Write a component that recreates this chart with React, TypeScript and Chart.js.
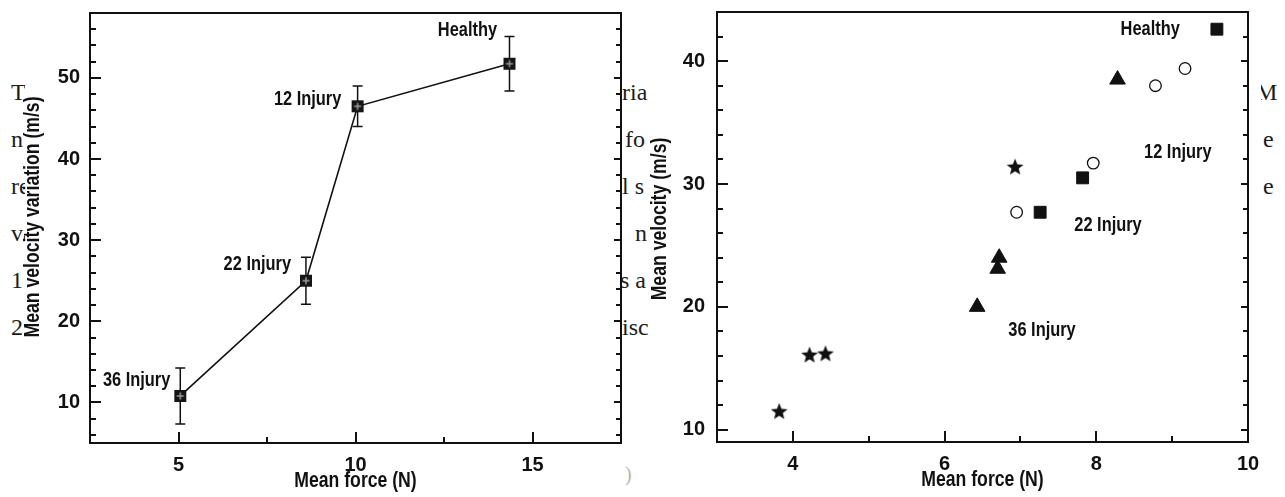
import React, { useEffect, useRef } from 'react';
import { Chart, registerables } from 'chart.js';

Chart.register(...registerables);

const SANS = '"Liberation Sans", Arial, Helvetica, sans-serif';
const SERIF = '"Liberation Serif", "Times New Roman", serif';
const NARROW_SCALE = 0.82;

// ---------- Left panel: mean velocity variation vs mean force ----------
const leftGroups = ['36 Injury', '22 Injury', '12 Injury', 'Healthy'];
const leftForce = [5.05, 8.6, 10.06, 14.35];
const leftVelocityVariation = [10.8, 25.0, 46.5, 51.75];
const leftError = [3.45, 2.9, 2.5, 3.35];
const leftLabelX = [4.77, 8.18, 9.6, 14.0];
const leftLabelY = [12.7, 27.0, 47.3, 55.8];
const leftXTicks = [5, 7.5, 10, 12.5, 15];
const leftXMajor = [5, 10, 15];
const leftYTicks = [6, 8, 10, 12, 14, 16, 18, 20, 22, 24, 26, 28, 30, 32, 34, 36, 38, 40, 42, 44, 46, 48, 50, 52, 54, 56];
const leftYMajor = [10, 20, 30, 40, 50];

// ---------- Right panel: mean velocity vs mean force ----------
const starForce = [3.82, 4.22, 4.43, 6.93];
const starVelocity = [11.5, 16.1, 16.2, 31.4];
const triangleForce = [6.43, 6.7, 6.72, 8.28];
const triangleVelocity = [20.0, 23.1, 24.0, 38.5];
const circleForce = [6.95, 7.96, 8.78, 9.17];
const circleVelocity = [27.7, 31.7, 38.0, 39.4];
const squareForce = [7.26, 7.82, 9.59];
const squareVelocity = [27.7, 30.5, 42.6];
const rightGroups = ['Healthy', '12 Injury', '22 Injury', '36 Injury'];
const rightLabelX = [8.32, 8.63, 7.71, 6.84];
const rightLabelY = [42.55, 32.6, 26.6, 18.1];
const rightXTicks = [4, 5, 6, 7, 8, 9, 10];
const rightXMajor = [4, 6, 8, 10];
const rightYTicks = [10, 12, 14, 16, 18, 20, 22, 24, 26, 28, 30, 32, 34, 36, 38, 40, 42];
const rightYMajor = [10, 20, 30, 40];

// scanned-page text fragments visible around the panels
const leftFragments = ['T', 'n', 're', 'va', '1', '2'];
const middleFragments = ['ria', 'fo', 'l s', 'n', 's a', 'isc'];
const rightFragments = ['M', 'e', 'e'];

type LabelSpec = { text: string; x: number; y: number; align: CanvasTextAlign };
type PanelCfg = {
  xTicks: number[]; xMajor: number[]; yTicks: number[]; yMajor: number[];
  xTitle: string; yTitle: string; yTitleDy: number;
  labels: LabelSpec[];
  errors?: { x: number; y: number; e: number }[];
};

function narrowText(ctx: CanvasRenderingContext2D, text: string, x: number, y: number, size: number, align: CanvasTextAlign, rotate = 0) {
  ctx.save();
  ctx.font = `bold ${size}px ${SANS}`;
  ctx.fillStyle = '#111';
  ctx.textAlign = align;
  ctx.textBaseline = 'middle';
  ctx.translate(x, y);
  if (rotate) ctx.rotate(rotate);
  ctx.scale(NARROW_SCALE, 1);
  ctx.fillText(text, 0, 0);
  ctx.restore();
}

function makePanelPlugin(cfg: PanelCfg) {
  return {
    id: 'panelDecor',
    beforeDatasetsDraw(chart: any) {
      if (!cfg.errors) return;
      const { ctx, scales: { x, y } } = chart;
      ctx.save();
      ctx.strokeStyle = '#111';
      ctx.lineWidth = 1.5;
      ctx.beginPath();
      for (const e of cfg.errors) {
        const px = x.getPixelForValue(e.x);
        const t = y.getPixelForValue(e.y + e.e);
        const b = y.getPixelForValue(e.y - e.e);
        ctx.moveTo(px, t); ctx.lineTo(px, b);
        ctx.moveTo(px - 5, t); ctx.lineTo(px + 5, t);
        ctx.moveTo(px - 5, b); ctx.lineTo(px + 5, b);
      }
      ctx.stroke();
      ctx.restore();
    },
    afterDraw(chart: any) {
      const { ctx, chartArea: { left, right, top, bottom }, scales: { x, y } } = chart;
      ctx.save();
      ctx.strokeStyle = '#111';
      ctx.lineWidth = 2;
      ctx.strokeRect(left, top, right - left, bottom - top);
      ctx.beginPath();
      for (const v of cfg.xTicks) {
        const px = Math.round(x.getPixelForValue(v));
        if (px <= left + 2 || px >= right - 2) continue;
        const len = cfg.xMajor.includes(v) ? 11 : 6;
        ctx.moveTo(px, bottom); ctx.lineTo(px, bottom - len);
      }
      for (const v of cfg.yTicks) {
        const py = Math.round(y.getPixelForValue(v));
        const major = cfg.yMajor.includes(v);
        ctx.moveTo(left, py); ctx.lineTo(left + (major ? 11 : 6), py);
        ctx.moveTo(right, py); ctx.lineTo(right - (major ? 7 : 5), py);
      }
      ctx.stroke();
      ctx.restore();

      for (const l of cfg.labels) {
        narrowText(ctx, l.text, x.getPixelForValue(l.x), y.getPixelForValue(l.y), 20, l.align);
      }
      narrowText(ctx, cfg.xTitle, (left + right) / 2, bottom + 38, 21.5, 'center');
      narrowText(ctx, cfg.yTitle, left - 57, (top + bottom) / 2 + cfg.yTitleDy, 21.5, 'center', -Math.PI / 2);
    },
  };
}

function makeCrossSquare() {
  const c = document.createElement('canvas');
  c.width = 14; c.height = 14;
  const g = c.getContext('2d')!;
  g.fillStyle = '#151515';
  g.fillRect(1, 1, 12, 12);
  g.strokeStyle = '#9a9a9a';
  g.lineWidth = 1.5;
  g.beginPath();
  g.moveTo(3.5, 7); g.lineTo(10.5, 7);
  g.moveTo(7, 3.5); g.lineTo(7, 10.5);
  g.stroke();
  return c;
}

function makeStar() {
  const c = document.createElement('canvas');
  c.width = 18; c.height = 18;
  const g = c.getContext('2d')!;
  g.fillStyle = '#111';
  g.beginPath();
  const cx = 9, cy = 9.6, ro = 8.8, ri = 3.8;
  for (let i = 0; i < 10; i++) {
    const r = i % 2 === 0 ? ro : ri;
    const a = -Math.PI / 2 + (i * Math.PI) / 5;
    const px = cx + r * Math.cos(a), py = cy + r * Math.sin(a);
    if (i === 0) g.moveTo(px, py); else g.lineTo(px, py);
  }
  g.closePath();
  g.fill();
  return c;
}

function tickFont() {
  return { family: SANS, size: 20, weight: 'bold' as const };
}

function fixX(height: number) {
  return (s: any) => { s.height = height; s.paddingLeft = 0; s.paddingRight = 0; s.paddingTop = 0; s.paddingBottom = 0; };
}
function fixY(width: number) {
  return (s: any) => { s.width = width; s.paddingLeft = 0; s.paddingRight = 0; s.paddingTop = 0; s.paddingBottom = 0; };
}

export default function App() {
  const leftRef = useRef<HTMLCanvasElement>(null);
  const rightRef = useRef<HTMLCanvasElement>(null);

  useEffect(() => {
    const crossSquare = makeCrossSquare();
    const star = makeStar();

    const leftChart = new Chart(leftRef.current!, {
      type: 'scatter',
      data: {
        datasets: [
          {
            label: 'Mean velocity variation',
            data: leftForce.map((f, i) => ({ x: f, y: leftVelocityVariation[i] })),
            showLine: true,
            borderColor: '#111',
            borderWidth: 1.6,
            backgroundColor: '#111',
            pointStyle: crossSquare as any,
            pointRadius: 7,
          },
        ],
      },
      options: {
        responsive: false,
        animation: false,
        layout: { autoPadding: false, padding: { left: 0, right: 19, top: 13, bottom: 0 } },
        plugins: { legend: { display: false }, tooltip: { enabled: false } },
        scales: {
          x: {
            type: 'linear', min: 2.5, max: 17.5,
            grid: { display: false, drawTicks: false }, border: { display: false },
            ticks: {
              autoSkip: false, maxRotation: 0, padding: 10, color: '#111', font: tickFont(),
              callback: (v: any) => (leftXMajor.includes(Number(v)) ? String(v) : ''),
            },
            afterBuildTicks: (s: any) => { s.ticks = leftXTicks.map((v) => ({ value: v })); },
            afterFit: fixX(54),
          },
          y: {
            type: 'linear', min: 5, max: 58,
            grid: { display: false, drawTicks: false }, border: { display: false },
            ticks: {
              autoSkip: false, padding: 10, color: '#111', font: tickFont(),
              callback: (v: any) => (leftYMajor.includes(Number(v)) ? String(v) : ''),
            },
            afterBuildTicks: (s: any) => { s.ticks = leftYTicks.map((v) => ({ value: v })); },
            afterFit: fixY(90),
          },
        },
      } as any,
      plugins: [
        makePanelPlugin({
          xTicks: leftXTicks, xMajor: leftXMajor, yTicks: leftYTicks, yMajor: leftYMajor,
          xTitle: 'Mean force (N)', yTitle: 'Mean velocity variation (m/s)', yTitleDy: -11,
          labels: leftGroups.map((t, i) => ({ text: t, x: leftLabelX[i], y: leftLabelY[i], align: 'right' as CanvasTextAlign })),
          errors: leftForce.map((f, i) => ({ x: f, y: leftVelocityVariation[i], e: leftError[i] })),
        }),
      ],
    });

    const rightChart = new Chart(rightRef.current!, {
      type: 'scatter',
      data: {
        datasets: [
          {
            label: 'stars',
            data: starForce.map((f, i) => ({ x: f, y: starVelocity[i] })),
            pointStyle: star as any, pointRadius: 8,
            backgroundColor: '#111', borderColor: '#111',
          },
          {
            label: 'triangles',
            data: triangleForce.map((f, i) => ({ x: f, y: triangleVelocity[i] })),
            pointStyle: 'triangle', pointRadius: 9,
            backgroundColor: '#111', borderColor: '#111', borderWidth: 1,
          },
          {
            label: 'circles',
            data: circleForce.map((f, i) => ({ x: f, y: circleVelocity[i] })),
            pointStyle: 'circle', pointRadius: 5.8,
            backgroundColor: '#fff', borderColor: '#111', borderWidth: 1.3,
          },
          {
            label: 'squares',
            data: squareForce.map((f, i) => ({ x: f, y: squareVelocity[i] })),
            pointStyle: 'rect', pointRadius: 8.4,
            backgroundColor: '#111', borderColor: '#111', borderWidth: 1,
          },
        ],
      },
      options: {
        responsive: false,
        animation: false,
        layout: { autoPadding: false, padding: { left: 0, right: 37, top: 12, bottom: 0 } },
        plugins: { legend: { display: false }, tooltip: { enabled: false } },
        scales: {
          x: {
            type: 'linear', min: 3, max: 10,
            grid: { display: false, drawTicks: false }, border: { display: false },
            ticks: {
              autoSkip: false, maxRotation: 0, padding: 10, color: '#111', font: tickFont(),
              callback: (v: any) => (rightXMajor.includes(Number(v)) ? String(v) : ''),
            },
            afterBuildTicks: (s: any) => { s.ticks = rightXTicks.map((v) => ({ value: v })); },
            afterFit: fixX(55),
          },
          y: {
            type: 'linear', min: 9, max: 44,
            grid: { display: false, drawTicks: false }, border: { display: false },
            ticks: {
              autoSkip: false, padding: 12, color: '#111', font: tickFont(),
              callback: (v: any) => (rightYMajor.includes(Number(v)) ? String(v) : ''),
            },
            afterBuildTicks: (s: any) => { s.ticks = rightYTicks.map((v) => ({ value: v })); },
            afterFit: fixY(77),
          },
        },
      } as any,
      plugins: [
        makePanelPlugin({
          xTicks: rightXTicks, xMajor: rightXMajor, yTicks: rightYTicks, yMajor: rightYMajor,
          xTitle: 'Mean force (N)', yTitle: 'Mean velocity (m/s)', yTitleDy: -8,
          labels: rightGroups.map((t, i) => ({ text: t, x: rightLabelX[i], y: rightLabelY[i], align: 'left' as CanvasTextAlign })),
        }),
      ],
    });

    return () => {
      leftChart.destroy();
      rightChart.destroy();
    };
  }, []);

  const baselines = [100, 147, 194, 241, 288, 335];
  const frag = (left: number, baseline: number): React.CSSProperties => ({
    position: 'absolute', left, top: baseline - 20, font: `24px ${SERIF}`, lineHeight: '24px',
    color: '#1c1c1c', whiteSpace: 'pre',
  });
  const midOffsets = [0, 3, 0, 13, -2, 0];
  const rightOffsets = [-5, 2, 2];

  return (
    <div style={{ position: 'fixed', left: 0, top: 0, width: 1285, height: 497, background: '#fff', overflow: 'hidden' }}>
      <div style={{ position: 'absolute', left: 0, top: 0, width: 25, height: 497, overflow: 'hidden' }}>
        {leftFragments.map((t, i) => (
          <span key={i} style={frag(11, baselines[i])}>{t}</span>
        ))}
      </div>
      <div style={{ position: 'absolute', left: 622, top: 0, width: 28, height: 497, overflow: 'hidden' }}>
        {middleFragments.map((t, i) => (
          <span key={i} style={frag(midOffsets[i], baselines[i])}>{t}</span>
        ))}
      </div>
      <div style={{ position: 'absolute', left: 1261, top: 0, width: 24, height: 497, overflow: 'hidden' }}>
        {rightFragments.map((t, i) => (
          <span key={i} style={frag(rightOffsets[i], baselines[i])}>{t}</span>
        ))}
      </div>
      <span style={{ position: 'absolute', left: 625, top: 463, font: `20px ${SERIF}`, color: '#b5b5b5' }}>)</span>
      <canvas ref={leftRef} width={640} height={497} style={{ position: 'absolute', left: 0, top: 0 }} />
      <canvas ref={rightRef} width={645} height={497} style={{ position: 'absolute', left: 640, top: 0 }} />
    </div>
  );
}
